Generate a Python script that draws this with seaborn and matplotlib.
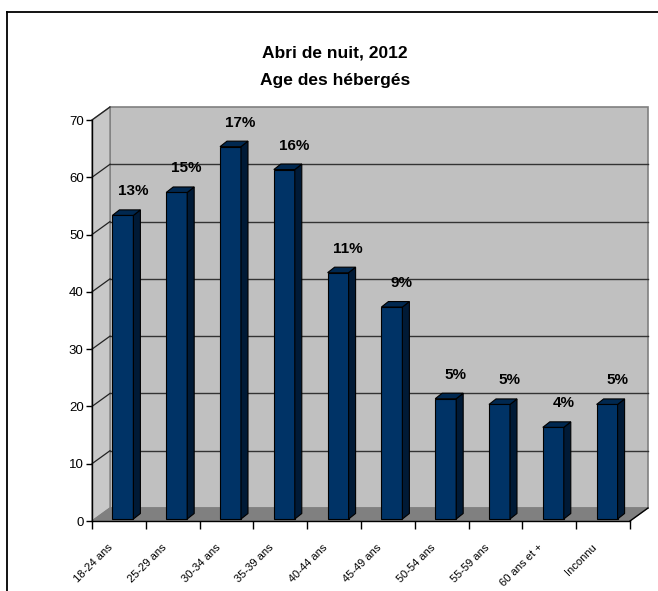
import numpy as np
import pandas as pd
import matplotlib
matplotlib.use("Agg")
import matplotlib.pyplot as plt
import seaborn as sns
from matplotlib.patches import Polygon
from matplotlib.lines import Line2D
from matplotlib.transforms import ScaledTranslation
from matplotlib import font_manager as fm

# ---- data ----
categories = ["18-24 ans", "25-29 ans", "30-34 ans", "35-39 ans", "40-44 ans",
              "45-49 ans", "50-54 ans", "55-59 ans", "60 ans et +", "Inconnu"]
values = [53, 57, 65, 61, 43, 37, 21, 20, 16, 20]
yticks = [0, 10, 20, 30, 40, 50, 60, 70]
title_lines = ["Abri de nuit, 2012", "Age des hébergés"]


def has_font(name):
    try:
        fm.findfont(fm.FontProperties(family=name), fallback_to_default=False)
        return True
    except Exception:
        return False

NARROW = has_font("Liberation Sans Narrow")
BASE = "Liberation Sans"
NARROW_FAM = "Liberation Sans Narrow" if NARROW else BASE

plt.rcParams["font.family"] = [BASE, "DejaVu Sans"]

W, H, DPI = 658, 591, 100
fig = plt.figure(figsize=(W / DPI, H / DPI), dpi=DPI)
fig.patch.set_facecolor("white")

# front plane of the 3D box in pixels
x0p, x1p, y0p, y1p = 92, 630, 521, 120
ax = fig.add_axes([x0p / W, (H - y0p) / H, (x1p - x0p) / W, (y0p - y1p) / H])
ax.set_facecolor("none")

df = pd.DataFrame({"cat": categories, "val": values})
sns.barplot(data=df, x="cat", y="val", color="#003366", width=0.39,
            errorbar=None, saturation=1, ax=ax, zorder=5,
            edgecolor="black", linewidth=0.8)

ax.set_xlim(-0.5, len(categories) - 0.5)
ax.set_ylim(yticks[0], yticks[-1])

cat_px = (x1p - x0p) / len(categories)
val_px = (y0p - y1p) / (yticks[-1] - yticks[0])
DX = 18 / cat_px      # full depth, data units
DY = 13 / val_px
xl, xr = -0.5, len(categories) - 0.5
ymax = yticks[-1]

# walls and floor
wall_kw = dict(closed=True, clip_on=False, transform=ax.transData)
ax.add_patch(Polygon([(xl + DX, DY), (xr + DX, DY), (xr + DX, ymax + DY), (xl + DX, ymax + DY)],
                     facecolor="#C0C0C0", edgecolor="#808080", lw=1.2, zorder=1, **wall_kw))
ax.add_patch(Polygon([(xl, 0), (xl + DX, DY), (xl + DX, ymax + DY), (xl, ymax)],
                     facecolor="#C8C8C8", edgecolor="#808080", lw=1.0, zorder=1, **wall_kw))
ax.add_patch(Polygon([(xl, 0), (xr, 0), (xr + DX, DY), (xl + DX, DY)],
                     facecolor="#808080", edgecolor="#808080", lw=0.8, zorder=1.5, **wall_kw))

# gridlines on back wall and side wall
for v in yticks[1:]:
    if v < ymax:
        ax.plot([xl + DX, xr + DX], [v + DY, v + DY], color="#333333", lw=1.0,
                zorder=2, clip_on=False)
    ax.plot([xl, xl + DX], [v, v + DY], color="#222222", lw=0.9, zorder=2, clip_on=False)
ax.plot([xr, xr + DX], [0, DY], color="black", lw=1.0, zorder=3, clip_on=False)

# 3D bars
shift = ax.transData + ScaledTranslation(4 / DPI, 2 / DPI, fig.dpi_scale_trans)
bdx = 7 / cat_px
bdy = 5.5 / val_px
bars = [p for p in ax.patches if p.get_zorder() == 5]
total = sum(values)
for p, v in zip(bars, values):
    p.set_transform(shift)
    x, w, h = p.get_x(), p.get_width(), p.get_height()
    ax.add_patch(Polygon([(x + w, 0), (x + w + bdx, bdy), (x + w + bdx, h + bdy), (x + w, h)],
                         closed=True, facecolor="#001A36", edgecolor="black", lw=0.8,
                         zorder=5, transform=shift, clip_on=False))
    ax.add_patch(Polygon([(x, h), (x + bdx, h + bdy), (x + w + bdx, h + bdy), (x + w, h)],
                         closed=True, facecolor="#002850", edgecolor="black", lw=0.8,
                         zorder=5, transform=shift, clip_on=False))
    pct = f"{round(v / total * 100)}%"
    ax.annotate(pct, xy=(x + w / 2, h), xycoords=shift,
                xytext=(10 / 1.389, 24 / 1.389), textcoords="offset points",
                ha="center", va="center", fontsize=11, fontweight="bold",
                color="black", zorder=6, annotation_clip=False)

# spines and ticks
for s in ["top", "right"]:
    ax.spines[s].set_visible(False)
for s in ["left", "bottom"]:
    ax.spines[s].set_color("black")
    ax.spines[s].set_zorder(4)
    ax.spines[s].set_linewidth(1.0)

ax.set_yticks(yticks)
ax.set_yticklabels([str(t) for t in yticks], fontsize=9.5, family=[BASE, "DejaVu Sans"])
ax.tick_params(axis="y", direction="out", length=4, width=1, pad=2, colors="black")

ax.set_xticks(np.arange(-0.5, len(categories), 1.0), minor=True)
ax.set_xticks(np.arange(len(categories)))
ax.set_xticklabels(categories, rotation=45, ha="right", va="center",
                   rotation_mode="anchor",
                   fontsize=9 if NARROW else 8,
                   family=[NARROW_FAM, "DejaVu Sans"])
ax.tick_params(axis="x", which="major", length=0, pad=18)
ax.tick_params(axis="x", which="minor", length=6, width=1, direction="out", colors="black")
lab_shift = ScaledTranslation(-8 / DPI, 0, fig.dpi_scale_trans)
for lab in ax.get_xticklabels():
    lab.set_transform(lab.get_transform() + lab_shift)
ax.set_xlabel("")
ax.set_ylabel("")

# title
for i, line in enumerate(title_lines):
    fig.text(335 / W, 1 - (53 + 27 * i) / H, line, ha="center", va="center",
             fontsize=14.5 if NARROW else 12.5, fontweight="bold",
             family=[NARROW_FAM, "DejaVu Sans"])

# chart border (top and left visible)
fig.add_artist(Line2D([7 / W, 1.0], [1 - 12 / H, 1 - 12 / H], transform=fig.transFigure,
                      color="black", lw=1.3))
fig.add_artist(Line2D([7 / W, 7 / W], [1 - 12 / H, 0.0], transform=fig.transFigure,
                      color="black", lw=1.3))

fig.savefig("out.png", dpi=DPI)
